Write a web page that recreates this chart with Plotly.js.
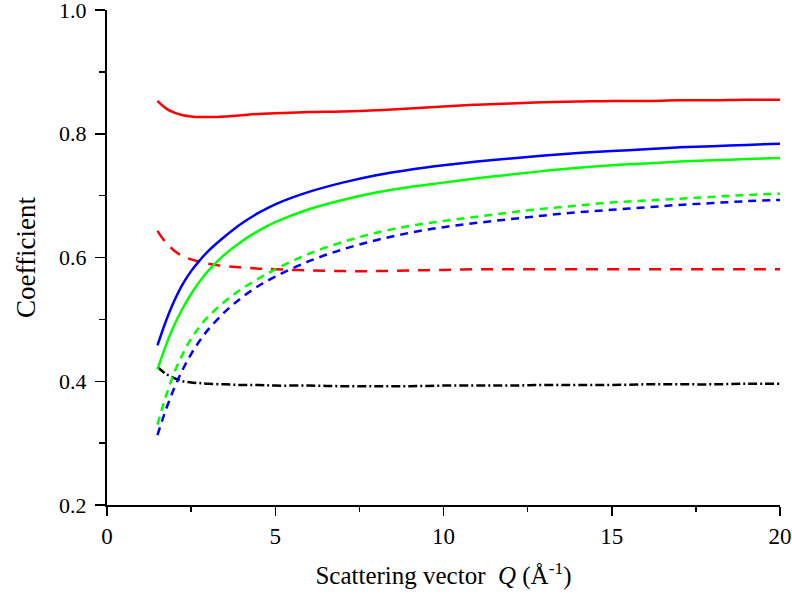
<!DOCTYPE html>
<html>
<head>
<meta charset="utf-8">
<script src="https://cdn.plot.ly/plotly-3.0.1.min.js"></script>
<style>html,body{margin:0;padding:0;background:#fff;}#chart{width:792px;height:594px;}</style>
</head>
<body>
<div id="chart"></div>
<script>
// Scattering vector Q (1/Å)
var q = [1.5, 1.75, 2.0, 2.25, 2.5, 2.75, 3.0, 3.5, 4.0, 4.5, 5.0, 6.0, 7.0, 8.0, 9.0, 10.0, 11.0, 12.0, 13.0, 14.0, 15.0, 16.0, 17.0, 18.0, 19.0, 20.0];

// Solid curves
var redSolid   = [0.853, 0.841, 0.834, 0.830, 0.828, 0.827, 0.827, 0.828, 0.830, 0.832, 0.833, 0.835, 0.836, 0.838, 0.841, 0.844, 0.847, 0.849, 0.851, 0.852, 0.853, 0.853, 0.854, 0.854, 0.855, 0.855];
var blueSolid  = [0.458, 0.497, 0.530, 0.557, 0.578, 0.595, 0.610, 0.634, 0.655, 0.672, 0.686, 0.706, 0.721, 0.733, 0.742, 0.749, 0.755, 0.760, 0.765, 0.769, 0.772, 0.775, 0.778, 0.780, 0.782, 0.784];
var greenSolid = [0.419, 0.458, 0.491, 0.518, 0.541, 0.561, 0.578, 0.605, 0.626, 0.643, 0.657, 0.678, 0.693, 0.705, 0.714, 0.721, 0.728, 0.734, 0.740, 0.745, 0.749, 0.752, 0.755, 0.757, 0.759, 0.761];

// Dashed curves
var redDash    = [0.643, 0.624, 0.611, 0.602, 0.597, 0.593, 0.590, 0.586, 0.584, 0.582, 0.581, 0.579, 0.578, 0.578, 0.579, 0.580, 0.581, 0.581, 0.581, 0.581, 0.581, 0.581, 0.581, 0.581, 0.581, 0.581];
var greenDash  = [0.330, 0.376, 0.414, 0.444, 0.469, 0.488, 0.504, 0.529, 0.549, 0.566, 0.581, 0.606, 0.625, 0.640, 0.651, 0.659, 0.666, 0.673, 0.679, 0.684, 0.689, 0.692, 0.695, 0.698, 0.701, 0.703];
var blueDash   = [0.313, 0.354, 0.389, 0.419, 0.444, 0.465, 0.483, 0.512, 0.535, 0.554, 0.569, 0.594, 0.613, 0.628, 0.640, 0.649, 0.656, 0.662, 0.668, 0.673, 0.677, 0.681, 0.685, 0.688, 0.691, 0.693];

// Dash-dot curve
var blackDashDot = [0.423, 0.412, 0.405, 0.400, 0.398, 0.397, 0.396, 0.395, 0.394, 0.394, 0.393, 0.393, 0.392, 0.392, 0.392, 0.393, 0.393, 0.393, 0.394, 0.394, 0.394, 0.395, 0.395, 0.395, 0.396, 0.396];

var xTickVals = [0, 5, 10, 15, 20];
var yTickVals = [0.2, 0.4, 0.6, 0.8, 1.0];
var yTickText = ['0.2', '0.4', '0.6', '0.8', '1.0'];

function tr(y, color, dash) {
  return {x: q, y: y, mode: 'lines', type: 'scatter',
          line: {color: color, width: 2.5, dash: dash, shape: 'spline', smoothing: 1},
          hoverinfo: 'skip', showlegend: false};
}

var data = [
  tr(blackDashDot, '#000000', '9px,3px,2px,3px'),
  tr(redDash, '#ff0000', '12px,9px'),
  tr(blueDash, '#0000ff', '8px,6px'),
  tr(greenDash, '#00ff00', '8px,6px'),
  tr(greenSolid, '#00ff00', 'solid'),
  tr(blueSolid, '#0000ff', 'solid'),
  tr(redSolid, '#ff0000', 'solid')
];

var fontFam = '"Liberation Serif", "Times New Roman", serif';

var layout = {
  width: 792, height: 594,
  margin: {l: 107, r: 12, t: 10, b: 89},
  paper_bgcolor: '#ffffff', plot_bgcolor: '#ffffff',
  showlegend: false,
  font: {family: fontFam, color: '#000000', size: 22},
  xaxis: {
    range: [0, 20], tickvals: xTickVals, ticktext: xTickVals.map(String),
    ticklabeloverflow: 'allow',
    ticks: 'outside', ticklen: 9, tickwidth: 1.5, tickcolor: '#000',
    minor: {dtick: 2.5, tick0: 0, ticks: 'outside', ticklen: 5, tickwidth: 1.5, tickcolor: '#000', showgrid: false},
    showline: true, linecolor: '#000', linewidth: 2, showgrid: false, zeroline: false,
    tickfont: {family: fontFam, size: 23, color: '#000'},
    title: {text: 'Scattering vector  <i>Q</i> (Å<sup>-1</sup>)', font: {family: fontFam, size: 25, color: '#000'}, standoff: 19}
  },
  yaxis: {
    range: [0.2, 1.0], tickvals: yTickVals, ticktext: yTickText,
    ticklabeloverflow: 'allow', ticklabelstandoff: 4,
    ticks: 'outside', ticklen: 10, tickwidth: 1.5, tickcolor: '#000',
    minor: {dtick: 0.1, tick0: 0.2, ticks: 'outside', ticklen: 6, tickwidth: 1.5, tickcolor: '#000', showgrid: false},
    showline: true, linecolor: '#000', linewidth: 2, showgrid: false, zeroline: false,
    tickfont: {family: fontFam, size: 22, color: '#000'},
    title: {text: 'Coefficient', font: {family: fontFam, size: 27, color: '#000'}, standoff: 16}
  }
};

Plotly.newPlot('chart', data, layout, {displayModeBar: false, staticPlot: true});
</script>
</body>
</html>
